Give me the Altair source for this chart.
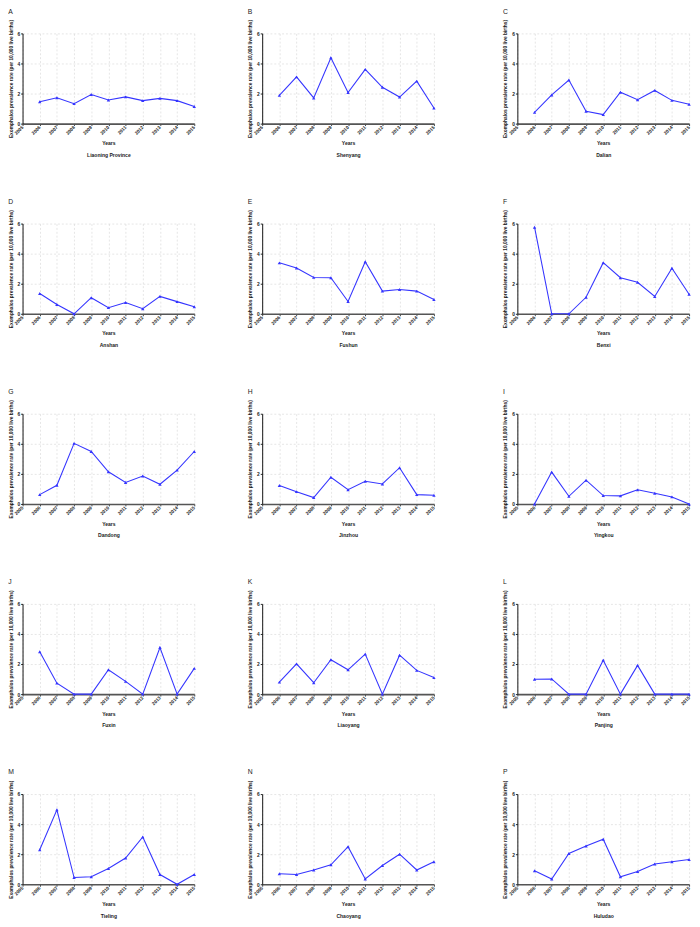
import altair as alt
import pandas as pd

years = list(range(2006, 2016))
axis_years = list(range(2005, 2016))
letters = ["A", "B", "C", "D", "E", "F", "G", "H", "I", "J", "K", "L", "M", "N", "P"]
cities = ["Liaoning Province", "Shenyang", "Dalian", "Anshan", "Fushun", "Benxi",
          "Dandong", "Jinzhou", "Yingkou", "Fuxin", "Liaoyang", "Panjing",
          "Tieling", "Chaoyang", "Huludao"]

liaoning = [1.46, 1.72, 1.33, 1.94, 1.57, 1.78, 1.53, 1.68, 1.53, 1.14]
shenyang = [1.88, 3.11, 1.71, 4.38, 2.07, 3.61, 2.42, 1.77, 2.83, 1.04]
dalian = [0.75, 1.91, 2.90, 0.82, 0.60, 2.09, 1.59, 2.21, 1.55, 1.29]
anshan = [1.35, 0.62, 0.0, 1.07, 0.41, 0.75, 0.34, 1.16, 0.81, 0.47]
fushun = [3.39, 3.05, 2.42, 2.40, 0.82, 3.46, 1.51, 1.62, 1.51, 0.95]
benxi = [5.76, 0.0, 0.0, 1.10, 3.40, 2.40, 2.10, 1.15, 3.03, 1.30]
dandong = [0.62, 1.24, 4.03, 3.49, 2.14, 1.43, 1.86, 1.31, 2.25, 3.49]
jinzhou = [1.23, 0.82, 0.43, 1.78, 0.95, 1.51, 1.33, 2.41, 0.62, 0.58]
yingkou = [0.0, 2.12, 0.51, 1.58, 0.56, 0.54, 0.94, 0.71, 0.47, 0.0]
fuxin = [2.82, 0.73, 0.0, 0.0, 1.62, 0.85, 0.0, 3.10, 0.0, 1.71]
liaoyang = [0.80, 2.01, 0.76, 2.29, 1.62, 2.66, 0.0, 2.59, 1.58, 1.10]
panjing = [0.99, 1.01, 0.0, 0.0, 2.26, 0.0, 1.91, 0.0, 0.0, 0.0]
tieling = [2.30, 4.95, 0.45, 0.50, 1.05, 1.75, 3.15, 0.65, 0.0, 0.65]
chaoyang = [0.70, 0.65, 0.95, 1.30, 2.50, 0.35, 1.25, 2.00, 0.95, 1.50]
huludao = [0.90, 0.35, 2.05, 2.55, 3.00, 0.50, 0.85, 1.35, 1.50, 1.65]

series = [liaoning, shenyang, dalian, anshan, fushun, benxi, dandong, jinzhou,
          yingkou, fuxin, liaoyang, panjing, tieling, chaoyang, huludao]

BLUE = "#3535ff"
FONT = "Liberation Sans"
YTITLE = "Exomphalos prevalence rate (per 10,000 live births)"


def panel(letter, city, vals):
    df = pd.DataFrame({"year": years, "rate": vals})
    x = alt.X(
        "year:Q",
        scale=alt.Scale(domain=[2005, 2015], nice=False, zero=False),
        axis=alt.Axis(
            values=axis_years, format="d", labelAngle=-45, labelAlign="right",
            labelBaseline="middle", labelFontSize=4.8, labelFont=FONT,
            labelFontWeight="bold", labelColor="#222", labelPadding=1,
            tickSize=2, tickColor="#444",
            domainColor="#555", domainWidth=1.6,
            grid=True, gridDash=[2, 2], gridColor="#d4d4d4", gridWidth=0.6,
            title=["Years", city], titleFont=FONT, titleFontSize=5.2,
            titleFontWeight="bold", titleLineHeight=12, titlePadding=6,
            titleColor="#222",
        ),
    )
    y = alt.Y(
        "rate:Q",
        scale=alt.Scale(domain=[0, 6], nice=False),
        axis=alt.Axis(
            values=[0, 2, 4, 6], labelFontSize=5, labelFont=FONT,
            labelFontWeight="bold", labelColor="#222", labelPadding=1,
            tickSize=2, tickColor="#222",
            domainColor="#111", domainWidth=1,
            grid=True, gridDash=[2, 2], gridColor="#d4d4d4", gridWidth=0.6,
            title=YTITLE, titleFont=FONT, titleFontSize=5,
            titleFontWeight="bold", titlePadding=4, titleColor="#222",
        ),
    )
    base = alt.Chart(df)
    line = base.mark_line(color=BLUE, strokeWidth=1.1).encode(x=x, y=y)
    pts = base.mark_point(shape="triangle-up", filled=True, size=12,
                          color=BLUE, opacity=1).encode(x=x, y=y)
    return alt.layer(line, pts).properties(
        width=177, height=93,
        title=alt.TitleParams(letter, anchor="start", fontSize=7,
                              fontWeight="normal", font=FONT, color="#222",
                              offset=5),
    )


panels = [panel(l, c, v) for l, c, v in zip(letters, cities, series)]
rows = []
for r in range(5):
    a, b, c = panels[3 * r:3 * r + 3]
    rows.append(alt.hconcat(alt.hconcat(a, b, spacing=52), c, spacing=68))

chart = alt.vconcat(*rows, spacing=40).properties(
    padding={"top": -15, "left": 0, "right": 0, "bottom": 0}
).configure_view(stroke=None)

chart.save("out.html", embed_options={"renderer": "svg", "actions": False})
